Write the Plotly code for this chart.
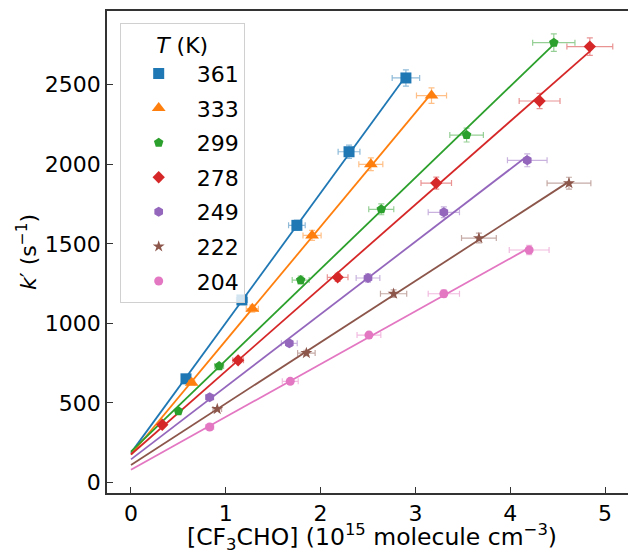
import numpy as np
import plotly.graph_objects as go

temps = ["361", "333", "299", "278", "249", "222", "204"]
colors = ["#1f77b4", "#ff7f0e", "#2ca02c", "#d62728", "#9467bd", "#8c564b", "#e377c2"]
err_colors = ["rgba(31,119,180,0.5)", "rgba(255,127,14,0.5)", "rgba(44,160,44,0.5)",
              "rgba(214,39,40,0.5)", "rgba(148,103,189,0.5)", "rgba(140,86,75,0.5)",
              "rgba(227,119,194,0.5)"]
symbols = ["square", "triangle-up", "pentagon", "diamond", "hexagon", "star", "circle"]
sizes = [11, 12, 10, 9.5, 10, 9, 9]

x_361 = [0.58, 1.17, 1.75, 2.30, 2.90]
y_361 = [651, 1147, 1616, 2079, 2543]
x_333 = [0.64, 1.28, 1.91, 2.53, 3.17]
y_333 = [626, 1092, 1553, 2000, 2432]
x_299 = [0.50, 0.93, 1.79, 2.64, 3.54, 4.46]
y_299 = [448, 731, 1272, 1717, 2184, 2765]
x_278 = [0.33, 1.13, 2.18, 3.22, 4.31, 4.84]
y_278 = [362, 767, 1289, 1882, 2398, 2740]
x_249 = [0.83, 1.67, 2.50, 3.30, 4.18]
y_249 = [535, 874, 1285, 1698, 2025]
x_222 = [0.91, 1.85, 2.77, 3.67, 4.62]
y_222 = [461, 813, 1186, 1536, 1881]
x_204 = [0.83, 1.68, 2.51, 3.30, 4.20]
y_204 = [348, 635, 926, 1186, 1461]

xs = [x_361, x_333, x_299, x_278, x_249, x_222, x_204]
ys = [y_361, y_333, y_299, y_278, y_249, y_222, y_204]

x_title = "[CF<sub>3</sub>CHO] (10<sup>15</sup> molecule cm<sup>−3</sup>)"
y_title = "<i>k</i>′ (s<sup>−1</sup>)"

x_err_pct = 5
y_err_pct = 2

fig = go.Figure()

# fit lines
for i in range(len(temps)):
    slope, icpt = np.polyfit(xs[i], ys[i], 1)
    xl = np.array([0.0, max(xs[i])])
    fig.add_trace(go.Scatter(x=xl, y=icpt + slope * xl, mode="lines",
                             line=dict(color=colors[i], width=1.8),
                             showlegend=False, hoverinfo="skip"))

for i in range(len(temps)):
    fig.add_trace(go.Scatter(
        x=xs[i], y=ys[i], mode="markers", name=temps[i], legendgroup=temps[i],
        marker=dict(symbol=symbols[i], size=sizes[i], color=colors[i], line=dict(width=0)),
        error_x=dict(type="percent", value=x_err_pct, color=err_colors[i], thickness=1.2, width=3),
        error_y=dict(type="percent", value=y_err_pct, color=err_colors[i], thickness=1.2, width=3),
    ))

axis_common = dict(showline=True, mirror=True, linecolor="#333333", linewidth=1.5,
                   ticks="inside", ticklen=6, tickwidth=1.2, tickcolor="#333333",
                   showgrid=False, zeroline=False, automargin=False,
                   tickfont=dict(size=22, color="black"))

# the page body adds an 8 px offset, so the figure is 8 px smaller and margins shifted
fig.update_layout(
    width=628, height=542,
    margin=dict(l=99, r=0, t=3, b=57),
    paper_bgcolor="white", plot_bgcolor="white",
    font=dict(family="DejaVu Sans", color="black"),
    xaxis=dict(range=[-0.253, 5.327], tickvals=[0, 1, 2, 3, 4, 5], **axis_common),
    yaxis=dict(range=[-67, 2964], tickvals=[0, 500, 1000, 1500, 2000, 2500],
               title=dict(text=y_title, font=dict(size=22), standoff=2),
               **axis_common),
    legend=dict(x=0.024, y=0.975, xanchor="left", yanchor="top",
                bgcolor="rgba(255,255,255,0.8)", bordercolor="#d0d0d0", borderwidth=1,
                font=dict(size=22), itemwidth=66, tracegroupgap=3,
                title=dict(text="<i>T</i> (K)", font=dict(size=22), side="top center")),
    annotations=[dict(text=x_title, xref="paper", yref="paper", x=0.5, y=0,
                      xanchor="center", yanchor="middle", yshift=-44, showarrow=False,
                      font=dict(size=23.5, color="black"))],
)

fig.write_html("out.html")
